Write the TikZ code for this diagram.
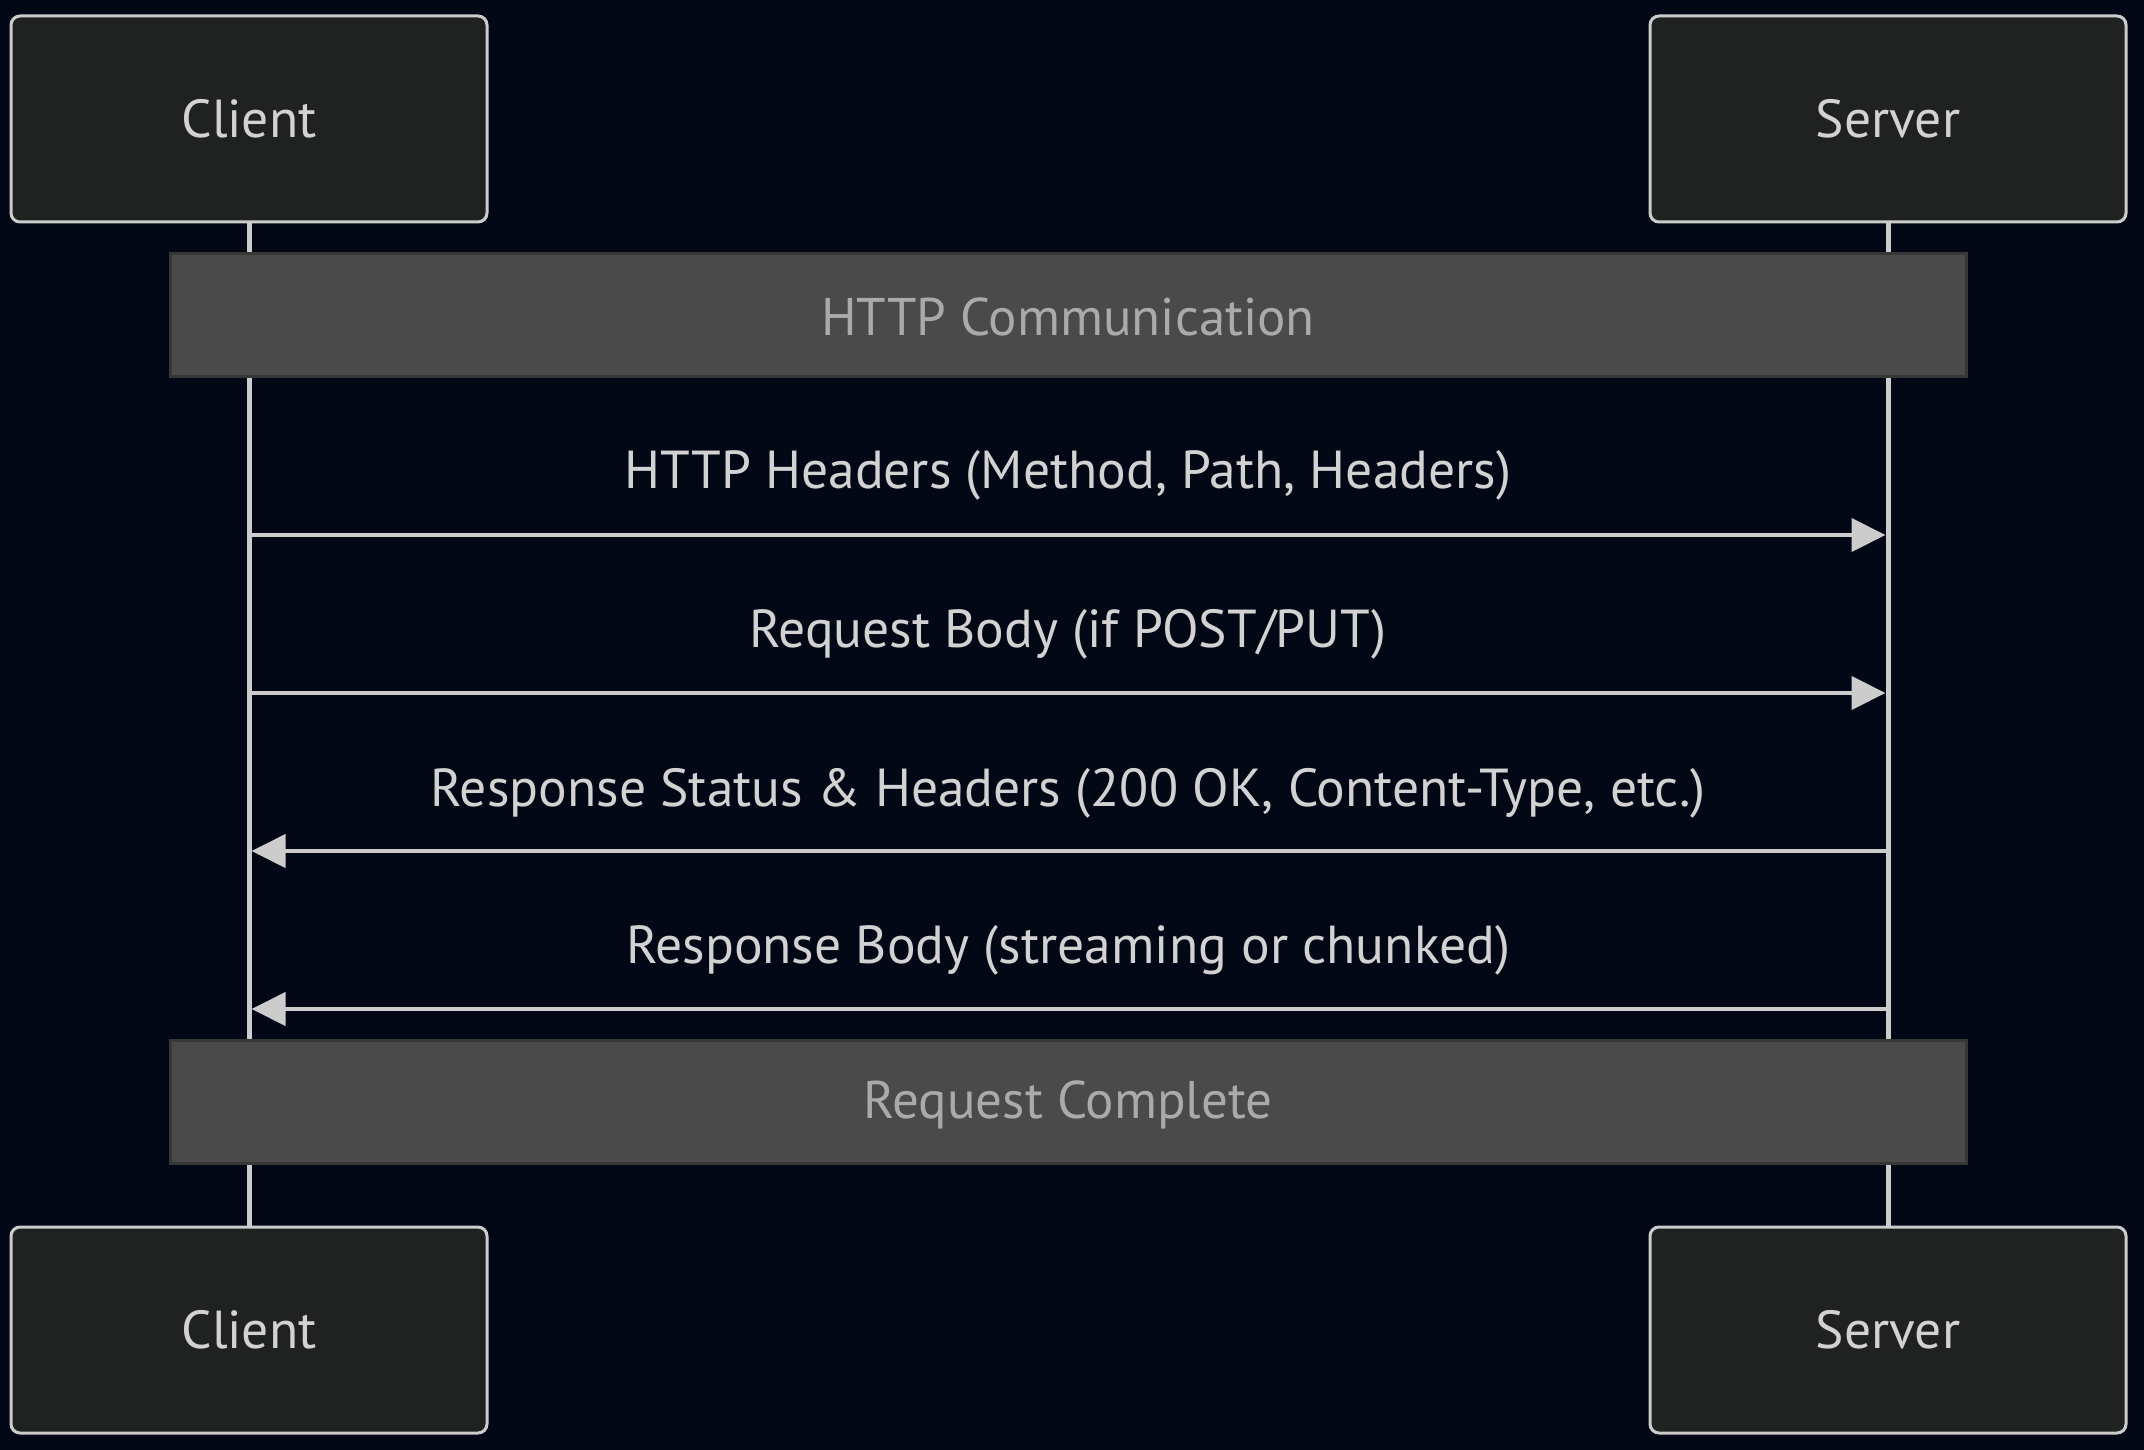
\documentclass[tikz,border=0pt]{standalone}
\usepackage{fontspec}
\setmainfont{PT Sans}
\usetikzlibrary{arrows.meta}
\definecolor{bgc}{HTML}{030816}
\definecolor{boxfill}{HTML}{202121}
\definecolor{linec}{HTML}{CCCCCC}
\definecolor{notefill}{HTML}{494A49}
\definecolor{notedraw}{HTML}{363838}
\definecolor{notetext}{HTML}{AAAAAA}
\definecolor{msgtext}{HTML}{D2D2D2}
\tikzset{
  actor/.style={draw=linec, line width=3pt, fill=boxfill, rounded corners=9pt,
    minimum width=476pt, minimum height=206pt, inner sep=0pt, text=msgtext,
    font=\fontsize{53.5}{62}\selectfont},
  notebox/.style={draw=notedraw, line width=3pt, fill=notefill,
    minimum width=1796pt, minimum height=123pt, inner sep=0pt},
  notelabel/.style={text=notetext, inner sep=0pt, font=\fontsize{53}{62}\selectfont},
  life/.style={draw=linec, line width=5pt},
  msg/.style={draw=linec, line width=4pt, -{Triangle[length=34pt,width=33pt]}},
  msglabel/.style={text=msgtext, inner sep=0pt, font=\fontsize{53.5}{62}\selectfont}
}
\begin{document}
\begin{tikzpicture}[x=1pt,y=-1pt]
\fill[bgc] (0,0) rectangle (2144,1450);
\useasboundingbox (0,0) rectangle (2144,1450);
\node[actor] (ct) at (249,119) {Client};
\node[actor] (st) at (1888,119) {Server};
\node[actor] (cb) at (249,1330) {Client};
\node[actor] (sb) at (1888,1330) {Server};
\draw[life] (ct.south) -- (cb.north);
\draw[life] (st.south) -- (sb.north);
\node[notebox] (n1) at (1068,314.5) {};
\node[notelabel] (t1) at (1068,317) {HTTP Communication};
\node[notebox] (n2) at (1068,1102) {};
\node[notelabel] (t2) at (1068,1104.5) {Request Complete};
\coordinate (c1) at (251.5,535); \coordinate (s1) at (1885.5,535);
\coordinate (c2) at (251.5,693); \coordinate (s2) at (1885.5,693);
\coordinate (c3) at (251.5,851); \coordinate (s3) at (1885.5,851);
\coordinate (c4) at (251.5,1009); \coordinate (s4) at (1885.5,1009);
\draw[msg] (c1) -- (s1);
\draw[msg] (c2) -- (s2);
\draw[msg] (s3) -- (c3);
\draw[msg] (s4) -- (c4);
\node[msglabel] (l1) at (1068,475) {HTTP Headers (Method, Path, Headers)};
\node[msglabel] (l2) at (1068,634) {Request Body (if POST/PUT)};
\node[msglabel] (l3) at (1068,793) {Response Status \& Headers (200 OK, Content-Type, etc.)};
\node[msglabel] (l4) at (1068,950) {Response Body (streaming or chunked)};
\end{tikzpicture}
\end{document}
